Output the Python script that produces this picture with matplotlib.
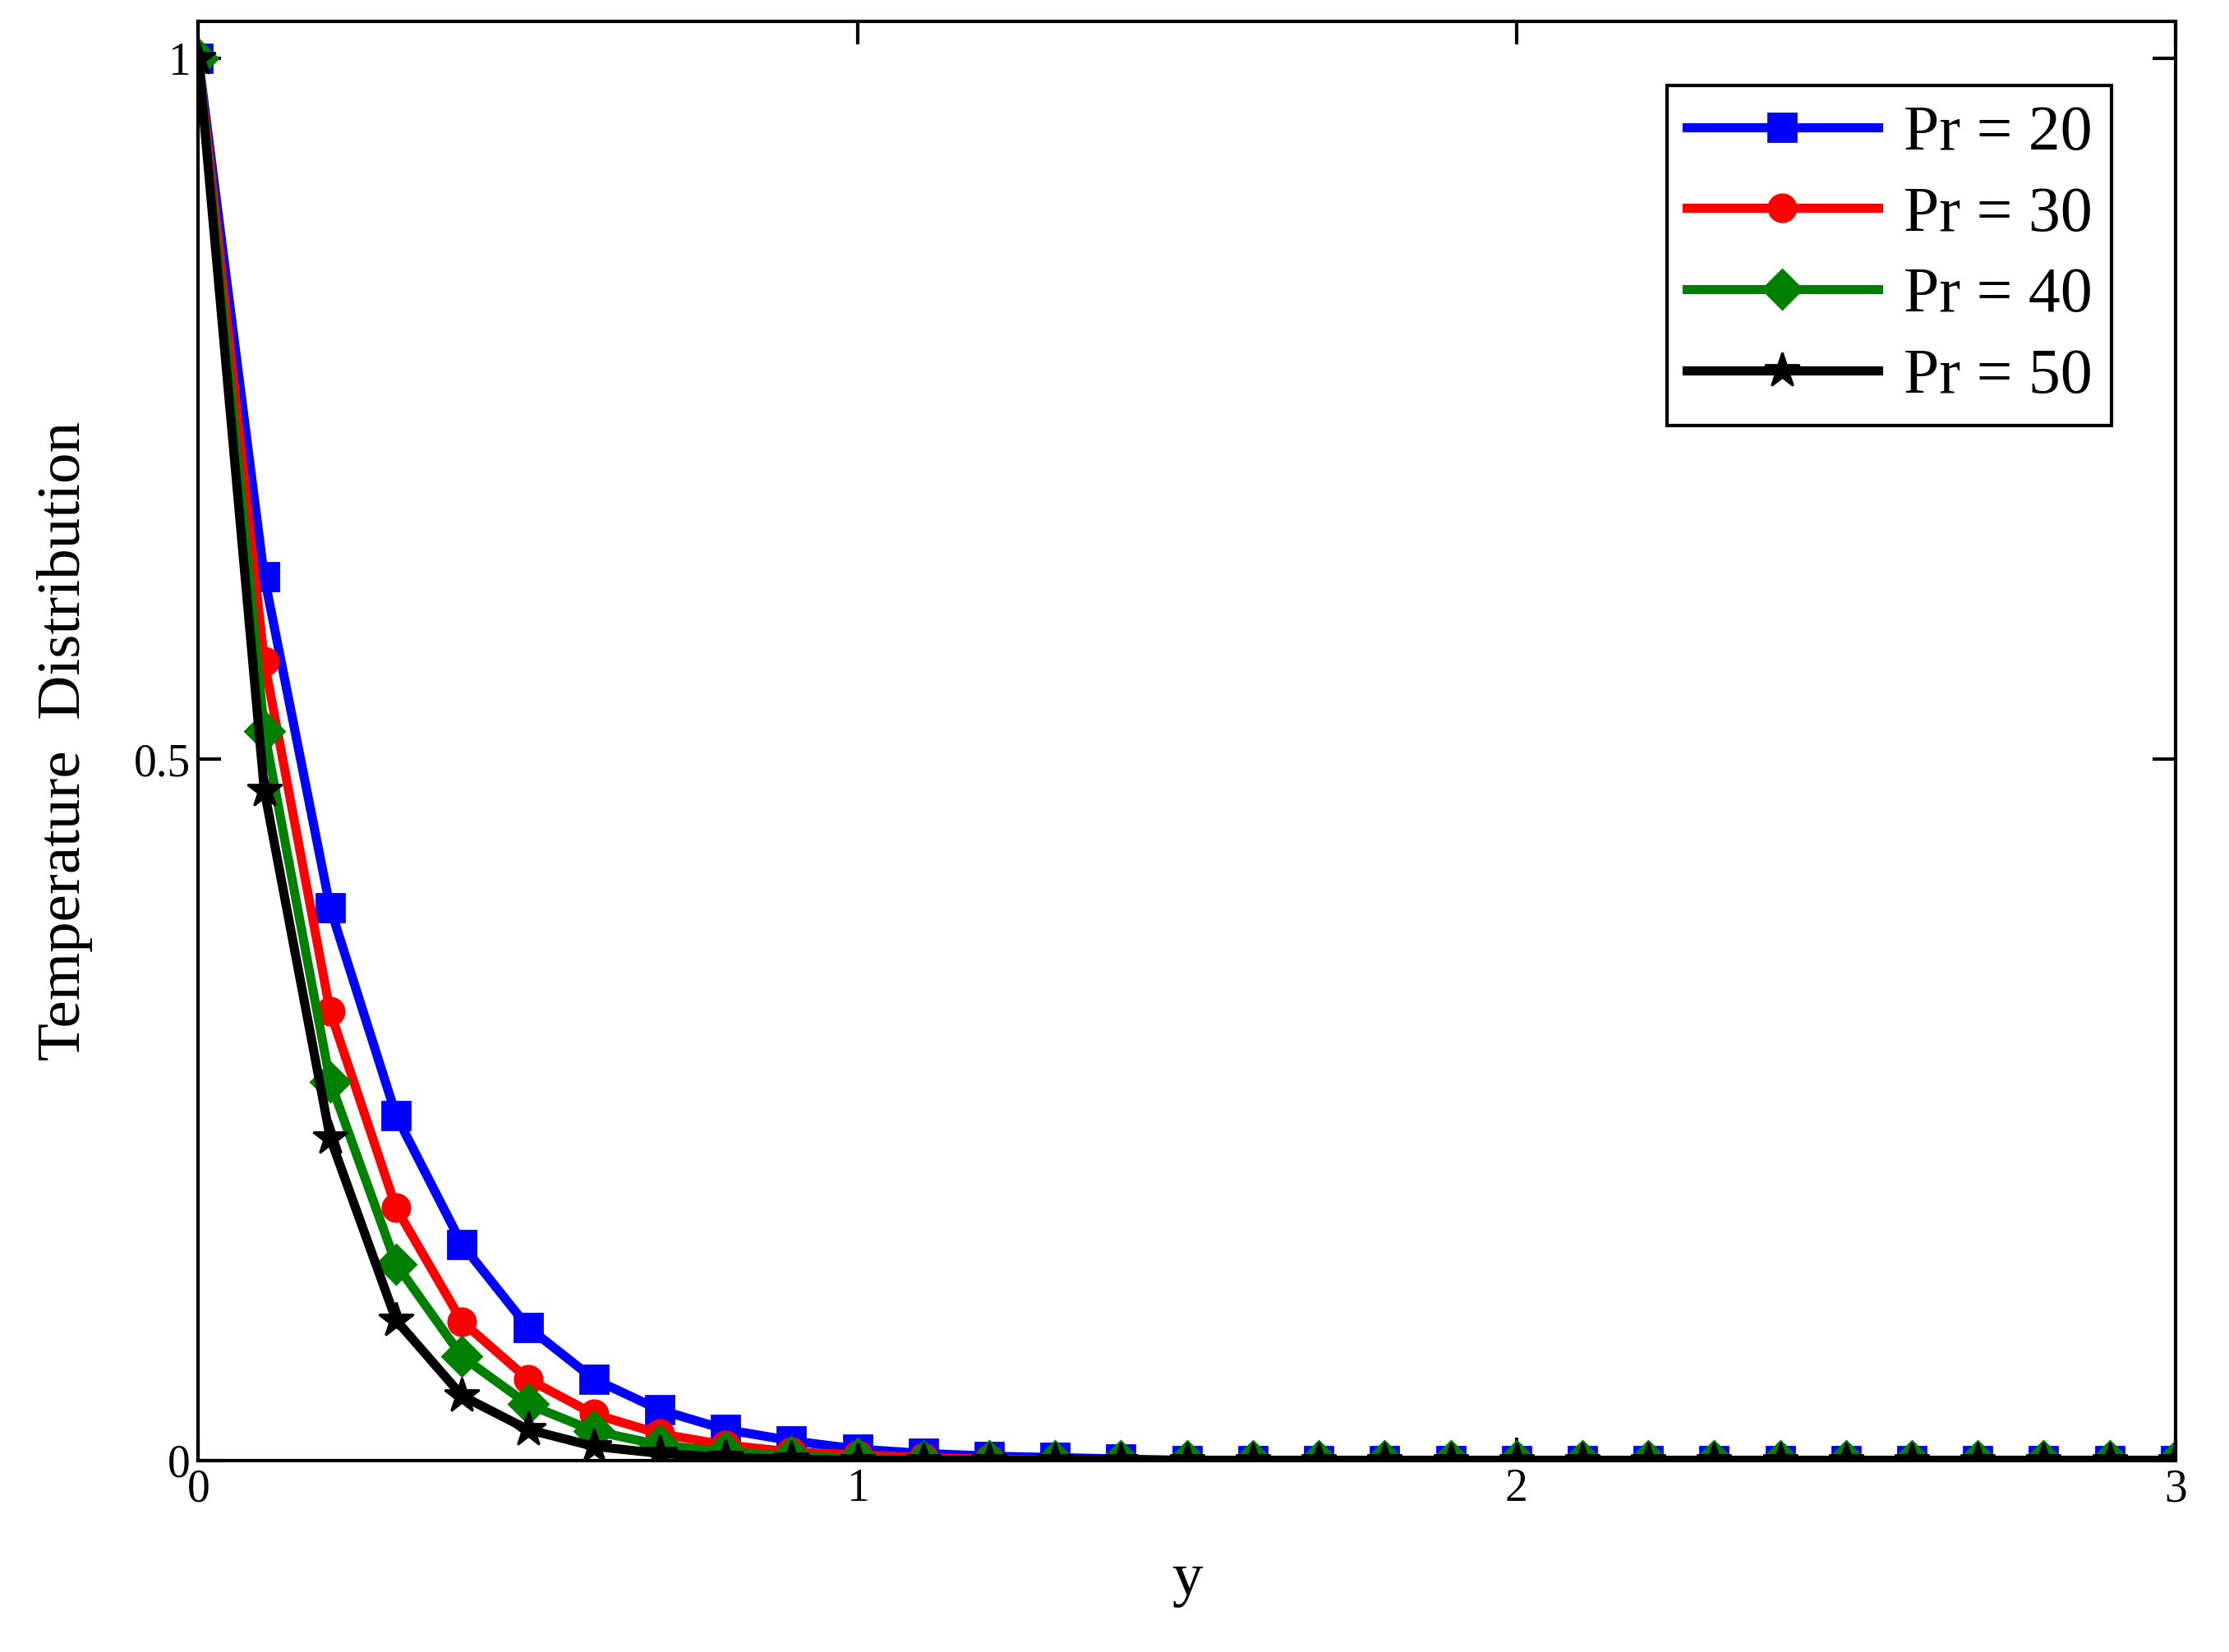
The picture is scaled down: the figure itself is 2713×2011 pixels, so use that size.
import matplotlib
matplotlib.use("Agg")
import matplotlib.pyplot as plt
import numpy as np

plt.rcParams['font.family'] = ['Liberation Serif', 'DejaVu Serif']

y = np.round(np.arange(0, 3.01, 0.1), 1)
pr20 = [1, 0.63, 0.394, 0.246, 0.154, 0.095, 0.058, 0.036, 0.022, 0.014, 0.008,
        0.005, 0.003, 0.002, 0.001] + [0] * 16
pr30 = [1, 0.57, 0.32, 0.18, 0.099, 0.058, 0.033, 0.019, 0.011, 0.006, 0.004,
        0.002, 0.001] + [0] * 18
pr40 = [1, 0.52, 0.27, 0.14, 0.074, 0.04, 0.021, 0.011, 0.006, 0.003, 0.0015] + [0] * 20
pr50 = [1, 0.478, 0.23, 0.10, 0.046, 0.022, 0.01, 0.005, 0.002, 0.001] + [0] * 21

series = [("Pr = 20", pr20, "#0000ff", "s"),
          ("Pr = 30", pr30, "#ff0000", "o"),
          ("Pr = 40", pr40, "#008000", "D"),
          ("Pr = 50", pr50, "#000000", "*")]

fig = plt.figure(figsize=(13.565, 10.055), dpi=200)
ax = fig.add_axes([0.089, 0.116, 0.887, 0.871])
for lab, vals, col, mk in series:
    ms = 16 if mk == "*" else 12
    ax.plot(y, vals, color=col, lw=4, marker=mk, ms=ms, label=lab)

ax.set_xlim(0, 3)
ax.set_ylim(0, 1.026)
ax.set_xticks([0, 1, 2, 3])
ax.set_xticklabels(["0", "1", "2", "3"])
ax.set_yticks([0, 0.5, 1])
ax.set_yticklabels(["0", "0.5", "1"])
ax.tick_params(direction="in", top=True, right=True, length=10, width=1.5, labelsize=20)
for s in ax.spines.values():
    s.set_linewidth(1.5)
ax.set_xlabel("y", fontsize=27, labelpad=18)
ax.set_ylabel("Temperature  Distribution", fontsize=27, labelpad=18)
leg = ax.legend(loc="upper right", fontsize=28, fancybox=False, edgecolor="black",
                handlelength=3.0, handletextpad=0.4, labelspacing=0.35,
                borderaxespad=1.0, borderpad=0.3, framealpha=1)
leg.get_frame().set_linewidth(1.5)
fig.savefig("out.png", dpi=200, facecolor="white")
